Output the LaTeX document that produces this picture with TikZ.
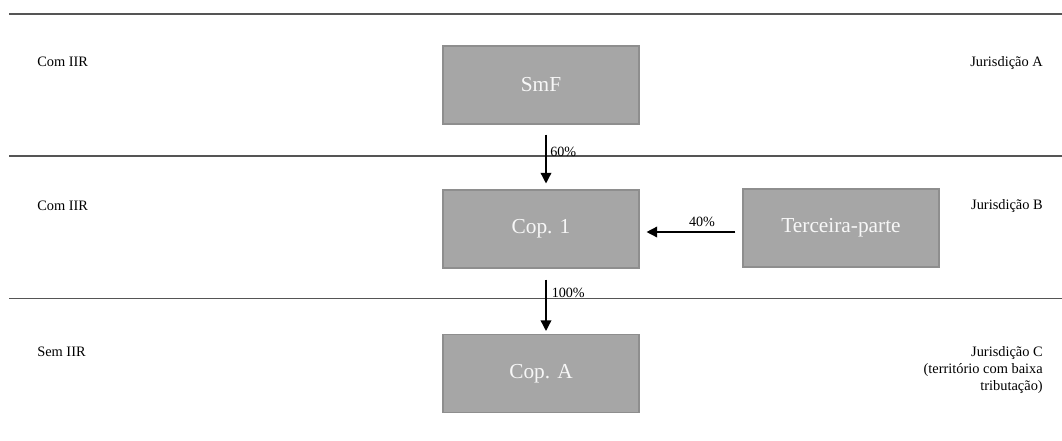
\documentclass[tikz,border=0pt]{standalone}
\usepackage{fontspec}
\setmainfont{Liberation Serif}
\usetikzlibrary{arrows.meta}
\definecolor{boxfill}{HTML}{A6A6A6}
\definecolor{boxedge}{HTML}{8E8E8E}
\definecolor{boxtext}{HTML}{F7F7F7}
\definecolor{rulegray}{HTML}{555555}
\begin{document}
\begin{tikzpicture}[x=0.75pt,y=-0.75pt,
  entity/.style={draw=boxedge, fill=boxfill, line width=0.8pt,
    minimum width=147pt, minimum height=58.5pt, inner sep=0pt,
    text=boxtext, font=\fontsize{16}{19}\selectfont},
  label/.style={inner sep=0pt, font=\fontsize{10.8}{12.6}\selectfont},
  share/.style={inner sep=0pt, font=\fontsize{10.6}{12.4}\selectfont},
  rule/.style={draw=rulegray, line width=1.2pt},
  flow/.style={-{Triangle[width=8pt,length=8pt]}, line width=1.1pt}]
\useasboundingbox (0,0) rectangle (1062,440);

% jurisdiction separators
\draw[rule] (9,14) -- (1062,14);
\draw[rule] (9,156) -- (1062,156);
\draw[rule] (9,298.5) -- (1062,298.5);

% entities
\node[entity] (smf)  at (541,85)  {SmF};
\node[entity] (cop1) at (541,229) {Cop. 1};
\node[entity] (third) at (841,228) {Terceira-parte};
\node[entity] (copa) at (541,373.5) {Cop. A};

% ownership links
\draw[flow, shorten <=7.5pt, shorten >=4.5pt]
  ([xshift=3.75pt]smf.south) -- ([xshift=3.75pt]cop1.north);
\draw[flow, shorten <=5.25pt, shorten >=5.25pt]
  ([yshift=-3pt]third.west) -- ([yshift=-3pt]third.west -| cop1.east);
\draw[flow, shorten <=8.25pt, shorten >=2.25pt]
  ([xshift=3.75pt]cop1.south) -- ([xshift=3.75pt]copa.north);

% shares
\node[share, anchor=west] (p60)  at (550,152) {60\%};
\node[share] (p40) at (702,222) {40\%};
\node[share, anchor=west] (p100) at (551.5,293) {100\%};

% rule status
\node[label, anchor=west] (ra) at (37,62)  {Com IIR};
\node[label, anchor=west] (rb) at (37,206) {Com IIR};
\node[label, anchor=west] (rc) at (37,352) {Sem IIR};

% jurisdictions
\node[label, anchor=east] (ja) at (1043,63)  {Jurisdição A};
\node[label, anchor=east] (jb) at (1043,206) {Jurisdição B};
\node[label, anchor=east, align=right] (jc) at (1043,370)
  {Jurisdição C\\(território com baixa\\tributação)};
\end{tikzpicture}
\end{document}
